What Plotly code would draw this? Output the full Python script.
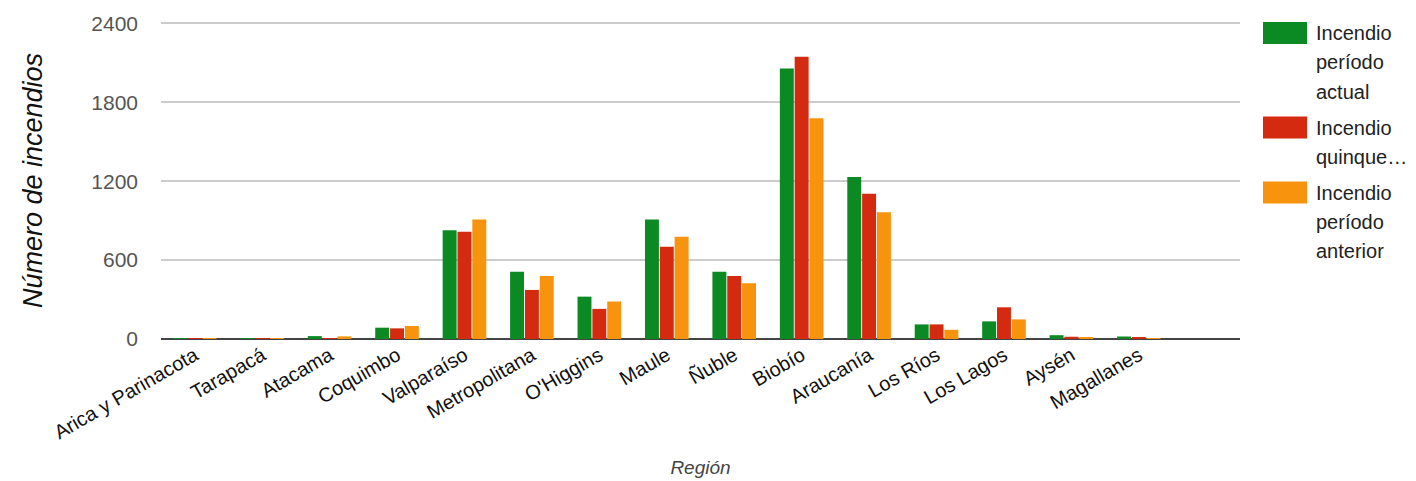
import plotly.graph_objects as go

# --- data ---
regiones = ["Arica y Parinacota", "Tarapacá", "Atacama", "Coquimbo", "Valparaíso",
            "Metropolitana", "O'Higgins", "Maule", "Ñuble", "Biobío", "Araucanía",
            "Los Ríos", "Los Lagos", "Aysén", "Magallanes"]

actual = [4, 3, 22, 86, 827, 512, 322, 908, 512, 2056, 1231, 111, 134, 29, 19]
quinquenio = [3, 2, 5, 81, 815, 373, 229, 701, 479, 2145, 1105, 111, 241, 17, 12]
anterior = [3, 4, 20, 99, 908, 479, 285, 777, 424, 1678, 964, 70, 149, 10, 4]

series_names = ["Incendio período actual", "Incendio quinquenio", "Incendio período anterior"]
legend_lines = [["Incendio", "período", "actual"], ["Incendio", "quinque…"],
                ["Incendio", "período", "anterior"]]
colors = ["#0b8a24", "#d42a10", "#f7930c"]

y_ticks = [0, 600, 1200, 1800, 2400]

fig = go.Figure()
for name, vals, col in zip(series_names, [actual, quinquenio, anterior], colors):
    fig.add_trace(go.Bar(x=regiones, y=vals, name=name, showlegend=False,
                         marker=dict(color=col, line=dict(width=0))))

# hand-drawn legend (big swatches, wrapped text like the original)
PL, PW, PT, PH = 161, 1079, 22, 317   # plot box in page pixels
def px(x): return (x - PL) / PW
def py(y): return (PT + PH - y) / PH

top = 22
for lines, col in zip(legend_lines, colors):
    fig.add_shape(type="rect", xref="paper", yref="paper",
                  x0=px(1263), x1=px(1307), y0=py(top), y1=py(top + 22),
                  fillcolor=col, line=dict(width=0))
    for i, t in enumerate(lines):
        fig.add_annotation(xref="paper", yref="paper", x=px(1314), y=py(top + 11 + i * 29.5),
                           text=t, showarrow=False, xanchor="left", yanchor="middle",
                           font=dict(size=20, color="#222"))
    top += 29.5 * len(lines) + 6

# page body adds 8px, so margins are shifted by that
fig.update_layout(
    width=1416, height=481,
    margin=dict(l=153, r=184, t=14, b=150, autoexpand=False),
    paper_bgcolor="white", plot_bgcolor="white",
    font=dict(family="Liberation Sans, Arial, sans-serif", size=20, color="#222"),
    barmode="group", bargap=0.34, bargroupgap=0.06,
    showlegend=False,
)

fig.update_xaxes(
    range=[-0.5, 15.5], tickangle=-30, showgrid=False, automargin=False,
    tickfont=dict(size=20, color="#111"),
    title=dict(text="<i>Región</i>", font=dict(size=19, color="#444"), standoff=18),
)
fig.update_yaxes(
    range=[0, 2410], tickvals=y_ticks, showgrid=True, gridcolor="#cccccc", gridwidth=1.5,
    zeroline=True, zerolinecolor="#444", zerolinewidth=2, automargin=False,
    tickfont=dict(size=21, color="#555"), ticklabelstandoff=22,
    title=dict(text="<i>Número de incendios</i>", font=dict(size=27, color="#111"), standoff=40),
)

fig.write_html("out.html")
